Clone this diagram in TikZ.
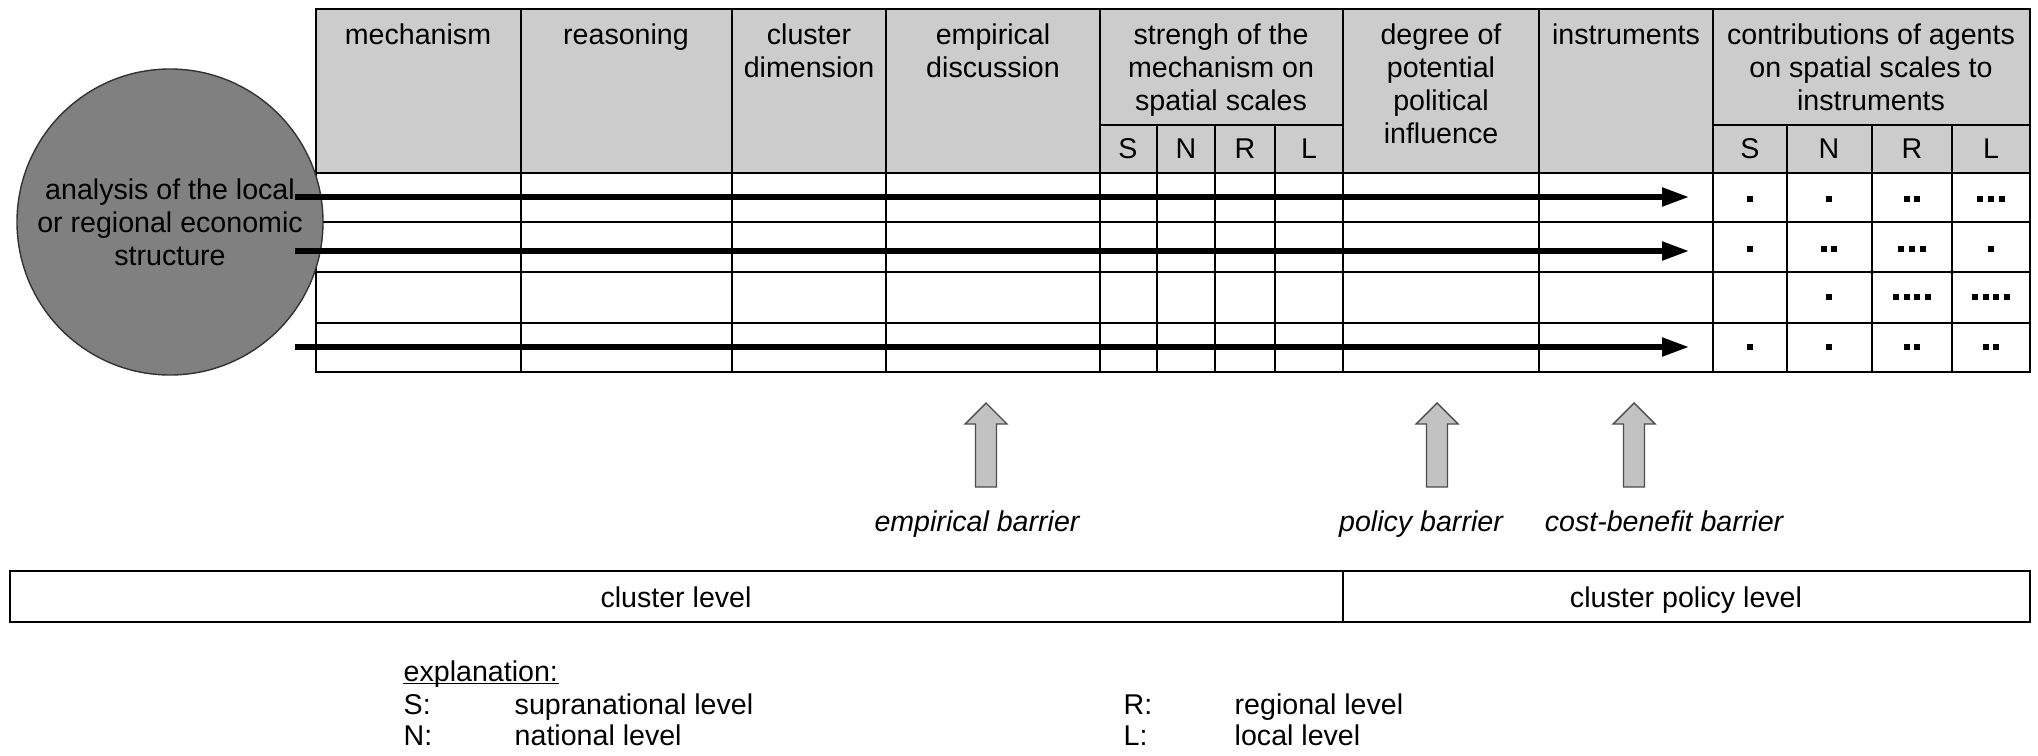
\documentclass[tikz,border=0pt]{standalone}
\usepackage{fontspec}
\setmainfont{Liberation Sans}
\usetikzlibrary{arrows.meta}

\definecolor{headgray}{gray}{0.8}
\definecolor{ballgray}{gray}{0.5}
\definecolor{bargray}{gray}{0.76}

\newcommand{\sq}{\kern1.2pt\rule{3pt}{3pt}\kern1.2pt}
\newcommand{\dotrow}[1]{\foreach \k in {1,...,#1}{\sq}}

\tikzset{
  txt/.style={font=\fontsize{14.3}{16.5}\selectfont,inner sep=0pt,align=center},
  flow/.style={line width=2.6pt,-{Triangle[length=13.5pt,width=9pt]}},
  barrier/.style={draw=black!70,fill=bargray,line width=0.7pt},
}

\begin{document}
\begin{tikzpicture}[x=0.5pt,y=-0.5pt,line width=0.7pt]
  \useasboundingbox (0,0) rectangle (2038,755);
  \draw[fill=headgray] (316,9) rectangle (2030,173);
  \draw (316,173) rectangle (2030,372);
  \foreach \x in {521,732,886,1100,1343,1539,1713}
    \draw (\x,9) -- (\x,372);
  \foreach \x in {1157,1215,1275,1787,1872,1952}
    \draw (\x,125) -- (\x,372);
  \draw (1100,125) -- (1343,125);
  \draw (1713,125) -- (2030,125);
  \foreach \y in {222,272,323}
    \draw (316,\y) -- (2030,\y);

  \node[txt,anchor=north] (mech) at (418,23) {mechanism};
  \node[txt,anchor=north] (reas) at (626,23) {reasoning};
  \node[txt,anchor=north] (cdim) at (809,23) {cluster\\dimension};
  \node[txt,anchor=north] (emp) at (993,23) {empirical\\discussion};
  \node[txt,anchor=north] (str) at (1221,23) {strengh of the\\mechanism on\\spatial scales};
  \node[txt,anchor=north] (deg) at (1441,23) {degree of\\potential\\political\\influence};
  \node[txt,anchor=north] (ins) at (1626,23) {instruments};
  \node[txt,anchor=north] (con) at (1871,23) {contributions of agents\\on spatial scales to\\instruments};
  \foreach \s/\a/\b in {S/1128/1750,N/1186/1829,R/1245/1912,L/1309/1991} {
    \node[txt] (str\s) at (\a,149) {\s};
    \node[txt] (con\s) at (\b,149) {\s};
  }

  \node[circle,draw=black!80,fill=ballgray,minimum size=153pt,txt] (ana) at (170,222)
    {analysis of the local\\or regional economic\\structure};

  \foreach \y [count=\i] in {197,251,347} {
    \coordinate (from\i) at (295,\y);
    \coordinate (to\i) at (1689,\y);
    \draw[flow] (from\i) -- (to\i);
  }

  \foreach \x/\y/\n [count=\i] in {1750/199/1,1829/199/1,1912/199/2,1991/199/3,
      1750/249/1,1829/249/2,1912/249/3,1991/249/1,
      1829/297/1,1912/297/4,1991/297/4,
      1750/347/1,1829/347/1,1912/347/2,1991/347/2}
    \node[inner sep=0pt] (dots\i) at (\x,\y) {\dotrow{\n}};

  \foreach \x/\lx/\t [count=\i] in {986/977/empirical barrier,1437/1421/policy barrier,1634/1664/cost-benefit barrier} {
    \draw[barrier] (\x-10.5,487) -- (\x+10.5,487) -- (\x+10.5,424) -- (\x+21,424)
      -- (\x,403) -- (\x-21,424) -- (\x-10.5,424) -- cycle;
    \node[txt,anchor=base,font=\fontsize{14.3}{16.5}\selectfont\itshape] (bar\i) at (\lx,531) {\t};
  }

  \draw (10,571) rectangle (2030,622);
  \draw (1343,571) -- (1343,622);
  \node[txt,anchor=base] (clev) at (676,607) {cluster level};
  \node[txt,anchor=base] (plev) at (1686,607) {cluster policy level};

  \node[txt,anchor=base west] (expl) at (403,681) {explanation:};
  \draw ([yshift=-1.3pt]expl.base west) -- ([yshift=-1.3pt]expl.base east);
  \foreach \k/\t/\x/\y [count=\i] in {S:/supranational level/403/714,N:/national level/403/745,
      R:/regional level/1123/714,L:/local level/1123/745} {
    \node[txt,anchor=base west] (key\i) at (\x,\y) {\k};
    \node[txt,anchor=base west] (desc\i) at (\x+111,\y) {\t};
  }
\end{tikzpicture}
\end{document}
